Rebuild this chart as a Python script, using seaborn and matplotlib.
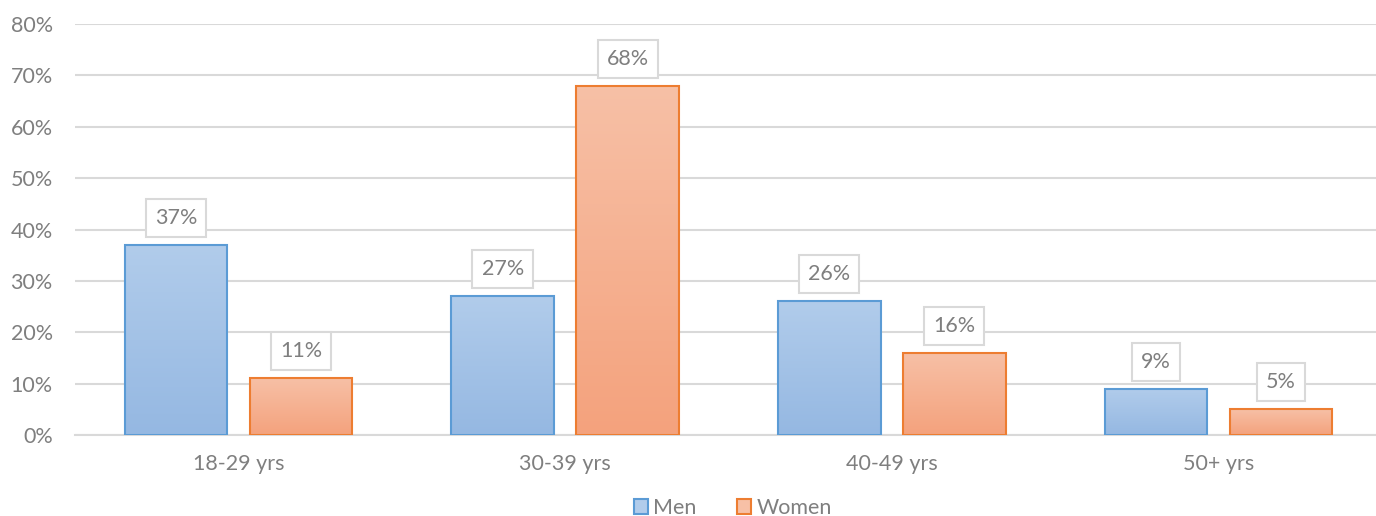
import matplotlib.pyplot as plt
import matplotlib.colors as mcolors
from matplotlib.patches import Patch
import seaborn as sns
import numpy as np
import pandas as pd

# data
age_groups = ["18-29 yrs", "30-39 yrs", "40-49 yrs", "50+ yrs"]
men = [37, 27, 26, 9]
women = [11, 68, 16, 5]
series = ["Men", "Women"]

edge_cols = {"Men": "#5b9bd5", "Women": "#ed7d31"}
grad_cols = {"Men": ("#b1cceb", "#95b8e2"), "Women": ("#f7c0a6", "#f4a27d")}

df = pd.DataFrame({
    "age": age_groups * 2,
    "pct": men + women,
    "sex": ["Men"] * len(men) + ["Women"] * len(women),
})

sns.set_style("white")
plt.rcParams["font.family"] = ["Lato", "DejaVu Sans"]
grey = "#7f7f7f"
fs = 15.5

fig = plt.figure(figsize=(13.76, 5.16), dpi=100)
ax = fig.add_axes([75 / 1376, 81 / 516, 1307 / 1376, 411 / 516])

sns.barplot(data=df, x="age", y="pct", hue="sex", hue_order=series,
            palette=edge_cols, width=0.765, gap=0.18, legend=False, ax=ax)

ax.set_ylim(0, 80)
ax.set_xlim(-0.5, len(age_groups) - 0.5)

# gradient fill for each bar, clipped to the bar rectangle
for container, name in zip(ax.containers, series):
    top_c, bot_c = grad_cols[name]
    cmap = mcolors.LinearSegmentedColormap.from_list(name, [bot_c, top_c])
    for bar, val in zip(container, df.loc[df.sex == name, "pct"]):
        x0, y0 = bar.get_x(), bar.get_y()
        w, h = bar.get_width(), bar.get_height()
        bar.set_facecolor("none")
        bar.set_edgecolor(edge_cols[name])
        bar.set_linewidth(1.5)
        bar.set_zorder(3)
        grad = np.linspace(0, 1, 100).reshape(-1, 1)
        im = ax.imshow(grad, cmap=cmap, origin="lower", aspect="auto",
                       extent=[x0, x0 + w, y0, y0 + h], zorder=2)
        im.set_clip_path(bar)
        ax.annotate(f"{val}%", (x0 + w / 2, y0 + h), xytext=(0, 19.5),
                    textcoords="offset points", ha="center", va="center",
                    fontsize=fs, color=grey, zorder=5,
                    bbox=dict(boxstyle="square,pad=0.42", fc="white",
                              ec="#d9d9d9", lw=1.5))

ax.set_xlim(-0.5, len(age_groups) - 0.5)
ax.set_ylim(0, 80)
ax.set_yticks(range(0, 81, 10))
ax.set_yticklabels([f"{t}%" for t in range(0, 81, 10)])
ax.yaxis.grid(True, color="#d9d9d9", lw=1.5, zorder=0)
ax.set_axisbelow(True)
ax.tick_params(axis="both", length=0, labelsize=fs, labelcolor=grey)
ax.tick_params(axis="x", pad=14)
ax.tick_params(axis="y", pad=16)
for side in ["left", "right", "top"]:
    ax.spines[side].set_visible(False)
ax.spines["bottom"].set_color("#d9d9d9")
ax.spines["bottom"].set_linewidth(1.5)
ax.set_xlabel("")
ax.set_ylabel("")

handles = [Patch(facecolor=grad_cols[s][0], edgecolor=edge_cols[s], lw=1.5, label=s)
           for s in series]
fig.legend(handles=handles, loc="center", bbox_to_anchor=(733 / 1376, 8 / 516), ncol=2,
           frameon=False, fontsize=fs, labelcolor=grey, handlelength=0.65,
           handleheight=0.65, handletextpad=0.25, columnspacing=1.9)

fig.savefig("out.png", dpi=100)
